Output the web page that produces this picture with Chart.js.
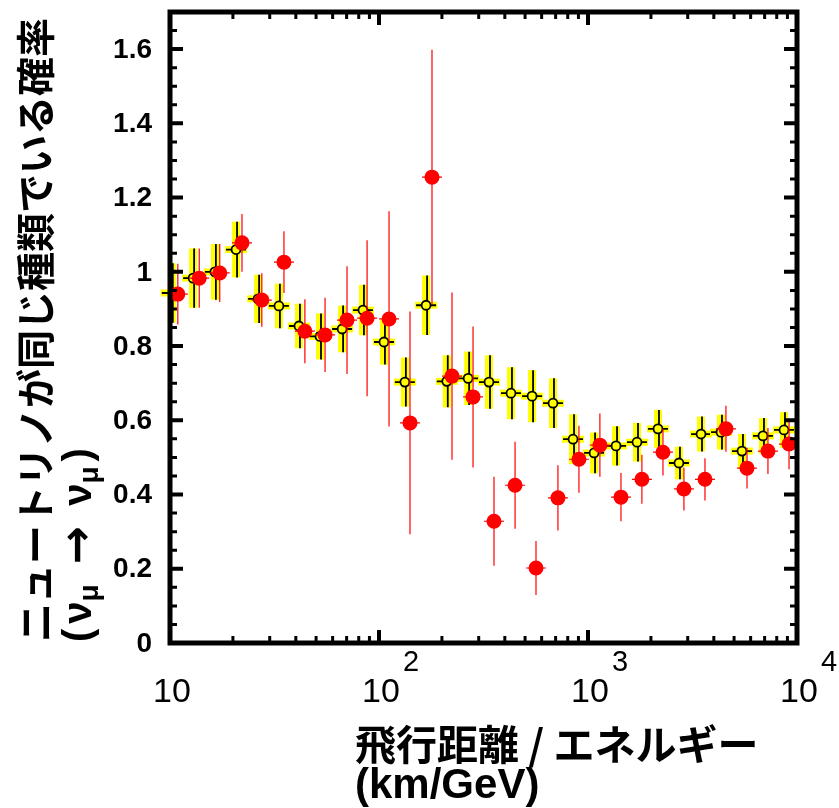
<!DOCTYPE html>
<html>
<head>
<meta charset="utf-8">
<script src="https://cdn.jsdelivr.net/npm/chart.js@4/dist/chart.umd.min.js"></script>
<style>
  body { margin: 0; background: #fff; }
  canvas { display: block; }
</style>
</head>
<body>
<canvas id="chart" width="839" height="808"></canvas>
<script>
// 予想値（黄色・白抜き）
const predX = [10.2, 12.9, 16.4, 20.7, 26.4, 33.2, 41.4, 52.2, 66.6, 83.8,
  105.6, 133, 168, 211, 267, 336, 428, 540, 680, 848,
  1069, 1362, 1716, 2162, 2724, 3473, 4328, 5454, 6874, 8663];
const predY = [0.943, 0.983, 1.0, 1.06, 0.927, 0.908, 0.854, 0.826, 0.846, 0.897,
  0.811, 0.703, 0.91, 0.705, 0.713, 0.703, 0.673, 0.665, 0.646, 0.549,
  0.512, 0.531, 0.541, 0.577, 0.485, 0.563, 0.568, 0.517, 0.558, 0.574];
const predErr = [0.08, 0.08, 0.075, 0.075, 0.065, 0.06, 0.06, 0.062, 0.063, 0.068,
  0.061, 0.066, 0.08, 0.07, 0.072, 0.072, 0.07, 0.07, 0.067, 0.067,
  0.055, 0.053, 0.052, 0.051, 0.044, 0.047, 0.047, 0.046, 0.048, 0.048];

// 観測値（赤）
const obsX = [10.9, 13.8, 17.3, 22.1, 27.5, 35.1, 44.2, 55.2, 70.3, 87.7,
  111.7, 140.7, 179.3, 223.5, 281.8, 355, 447.7, 563.9, 718, 905,
  1140, 1438, 1811, 2284, 2877, 3628, 4571, 5764, 7261, 9160];
const obsY = [0.94, 0.983, 0.997, 1.078, 0.924, 1.026, 0.84, 0.83, 0.87, 0.875,
  0.873, 0.593, 1.255, 0.719, 0.663, 0.328, 0.425, 0.202, 0.391, 0.495,
  0.533, 0.393, 0.441, 0.514, 0.415, 0.441, 0.577, 0.471, 0.517, 0.536];
const obsErr = [0.082, 0.08, 0.078, 0.078, 0.072, 0.083, 0.086, 0.1, 0.145, 0.21,
  0.29, 0.3, 0.343, 0.225, 0.19, 0.12, 0.117, 0.073, 0.088, 0.09,
  0.085, 0.065, 0.066, 0.063, 0.058, 0.057, 0.062, 0.055, 0.062, 0.068];

// 目盛り
const xTicks = [10, 100, 1000, 10000];
const xTickBase = ["10", "10", "10", "10"];
const xTickExp = ["", "2", "3", "4"];
const xMinor = [20, 30, 40, 50, 60, 70, 80, 90, 200, 300, 400, 500, 600, 700, 800, 900,
  2000, 3000, 4000, 5000, 6000, 7000, 8000, 9000];
const yTicks = [0, 0.2, 0.4, 0.6, 0.8, 1, 1.2, 1.4, 1.6];
const yTickLabels = ["0", "0.2", "0.4", "0.6", "0.8", "1", "1.2", "1.4", "1.6"];
const yMinorStep = 0.05;

const yTitle1 = "ニュートリノが同じ種類でいる確率";
const xTitle1 = "飛行距離 / エネルギー";
const xTitle2 = "(km/GeV)";

const JP = '"Noto Sans CJK JP", sans-serif';
const LAT = '"Liberation Sans", Arial, sans-serif';

// エラーバー（各データセットの点の直前に描く）
const errorBars = {
  id: "errorBars",
  beforeDatasetDraw(chart, args) {
    const ctx = chart.ctx;
    const xs = chart.scales.x, ys = chart.scales.y;
    const ds = chart.data.datasets[args.index];
    ctx.save();
    if (ds.kind === "pred") {
      predX.forEach((x, i) => {
        const px = xs.getPixelForValue(x);
        const py = ys.getPixelForValue(predY[i]);
        const top = ys.getPixelForValue(predY[i] + predErr[i]);
        const bot = ys.getPixelForValue(predY[i] - predErr[i]);
        ctx.fillStyle = "#ffff00";
        ctx.fillRect(px - 4, top, 8, bot - top);
        ctx.fillRect(px - 11, py - 3.5, 22, 7);
        ctx.strokeStyle = "#000";
        ctx.lineWidth = 1.8;
        ctx.beginPath();
        ctx.moveTo(px + 1, top);
        ctx.lineTo(px + 1, bot);
        ctx.moveTo(px - 10, py);
        ctx.lineTo(px + 10, py);
        ctx.stroke();
      });
    } else {
      ctx.strokeStyle = "#ff0000";
      ctx.lineWidth = 1.2;
      obsX.forEach((x, i) => {
        const px = xs.getPixelForValue(x);
        const py = ys.getPixelForValue(obsY[i]);
        const top = ys.getPixelForValue(obsY[i] + obsErr[i]);
        const bot = ys.getPixelForValue(obsY[i] - obsErr[i]);
        ctx.beginPath();
        ctx.moveTo(px, top);
        ctx.lineTo(px, bot);
        ctx.moveTo(px - 10, py);
        ctx.lineTo(px + 10, py);
        ctx.stroke();
      });
    }
    ctx.restore();
  }
};

// 枠・目盛り・ラベル
const frame = {
  id: "frame",
  afterDraw(chart) {
    const ctx = chart.ctx;
    const a = chart.chartArea;
    const xs = chart.scales.x, ys = chart.scales.y;
    ctx.save();
    ctx.fillStyle = "#000";
    ctx.strokeStyle = "#000";

    // y 目盛り（左右・内向き）
    for (let v = 0; v <= 1.7 + 1e-9; v += yMinorStep) {
      const major = yTicks.some(t => Math.abs(t - v) < 1e-6);
      const py = ys.getPixelForValue(v);
      const len = major ? 13 : 7;
      ctx.lineWidth = major ? 4 : 3;
      ctx.beginPath();
      ctx.moveTo(a.left, py); ctx.lineTo(a.left + len, py);
      ctx.moveTo(a.right, py); ctx.lineTo(a.right - len, py);
      ctx.stroke();
    }
    // x 目盛り（上下・内向き）
    const xt = xTicks.map(v => [v, true]).concat(xMinor.map(v => [v, false]));
    xt.forEach(([v, major]) => {
      const px = xs.getPixelForValue(v);
      const len = major ? 13 : 7;
      ctx.lineWidth = major ? 4 : 3;
      ctx.beginPath();
      ctx.moveTo(px, a.bottom); ctx.lineTo(px, a.bottom - len);
      ctx.moveTo(px, a.top); ctx.lineTo(px, a.top + len);
      ctx.stroke();
    });

    ctx.lineWidth = 5;
    ctx.strokeRect(a.left, a.top, a.right - a.left, a.bottom - a.top);

    // y ラベル
    ctx.font = "bold 28px " + LAT;
    ctx.textAlign = "right";
    ctx.textBaseline = "middle";
    yTicks.forEach((v, i) => {
      ctx.fillText(yTickLabels[i], 152, ys.getPixelForValue(v) + 1);
    });

    // x ラベル（10 のべき）
    xTicks.forEach((v, i) => {
      const px = xs.getPixelForValue(v) + 2;
      ctx.font = "34px " + LAT;
      ctx.textAlign = "center";
      ctx.textBaseline = "alphabetic";
      ctx.fillText(xTickBase[i], px, 702);
      if (xTickExp[i]) {
        const w = ctx.measureText(xTickBase[i]).width;
        ctx.font = "29px " + LAT;
        ctx.textAlign = "left";
        ctx.fillText(xTickExp[i], px + w / 2 + 3, 671);
      }
    });

    // x 軸タイトル
    ctx.textAlign = "left";
    ctx.textBaseline = "middle";
    ctx.font = "bold 41px " + JP;
    ctx.fillText(xTitle1, 355, 744);
    ctx.font = "bold 42px " + LAT;
    ctx.fillText(xTitle2, 355, 786);

    // y 軸タイトル（回転）
    ctx.save();
    ctx.translate(35, 642);
    ctx.rotate(-Math.PI / 2);
    ctx.font = "bold 39px " + JP;
    ctx.textAlign = "left";
    ctx.textBaseline = "middle";
    ctx.fillText(yTitle1, 0, 0);
    ctx.restore();

    ctx.save();
    ctx.translate(80, 642);
    ctx.rotate(-Math.PI / 2);
    ctx.textAlign = "left";
    ctx.textBaseline = "middle";
    const big = "bold 40px " + LAT;
    const sub = "bold 28px " + LAT;
    const arrow = 'bold 46px "DejaVu Sans", sans-serif';
    // [文字, フォント, 縦ずれ, 後ろの余白]
    const parts = [["(", big, 0, 5], ["ν", big, 0, 0], ["μ", sub, 10, 20], ["→", arrow, 0, 20],
      ["ν", big, 0, 0], ["μ", sub, 10, 5], [")", big, 0, 0]];
    let cx = 0;
    parts.forEach(([t, f, dy, gap]) => {
      ctx.font = f;
      ctx.fillText(t, cx, dy);
      cx += ctx.measureText(t).width + gap;
    });
    ctx.restore();

    ctx.restore();
  }
};

new Chart(document.getElementById("chart"), {
  type: "scatter",
  data: {
    datasets: [
      {
        kind: "obs",
        data: obsX.map((x, i) => ({ x, y: obsY[i] })),
        pointRadius: 7.5,
        pointBackgroundColor: "#ff0000",
        pointBorderWidth: 0,
        order: 0
      },
      {
        kind: "pred",
        data: predX.map((x, i) => ({ x, y: predY[i] })),
        pointRadius: 4.5,
        pointBackgroundColor: "#ffff00",
        pointBorderColor: "#000",
        pointBorderWidth: 1.8,
        order: 1
      }
    ]
  },
  options: {
    responsive: false,
    animation: false,
    layout: { padding: { left: 170, top: 12, right: 42, bottom: 165 } },
    plugins: { legend: { display: false }, tooltip: { enabled: false } },
    scales: {
      x: { type: "logarithmic", min: 10, max: 10000, display: false },
      y: { type: "linear", min: 0, max: 1.7, display: false }
    }
  },
  plugins: [errorBars, frame]
});
</script>
</body>
</html>
